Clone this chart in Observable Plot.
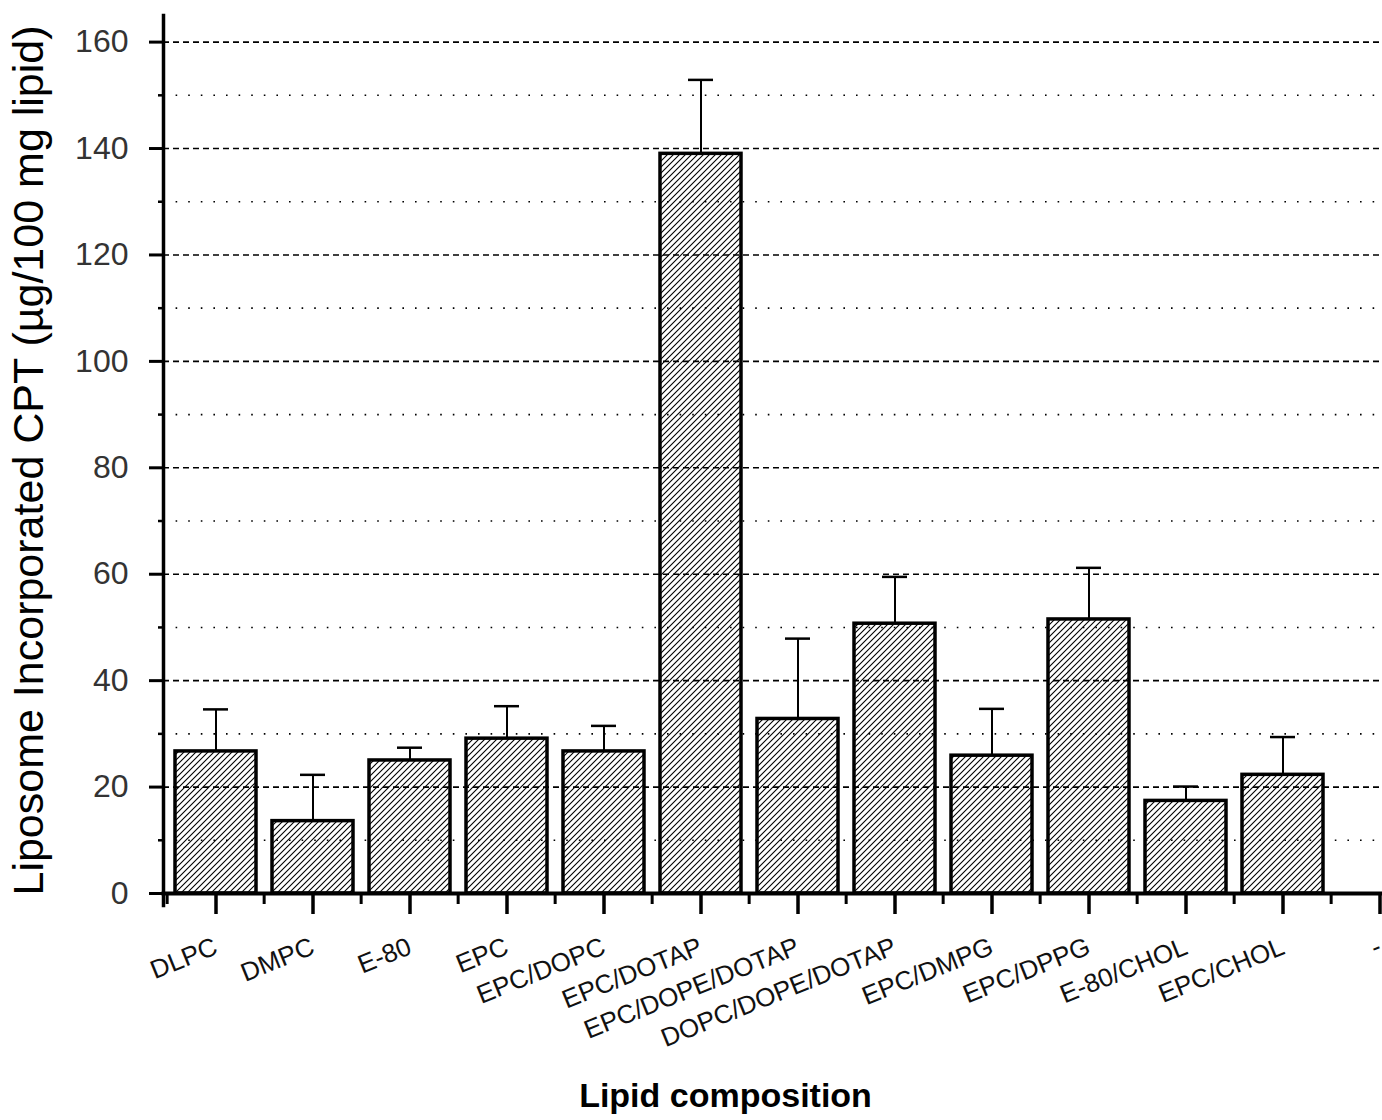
<!DOCTYPE html>
<html><head><meta charset="utf-8">
<script src="https://cdn.jsdelivr.net/npm/d3@7"></script>
<script src="https://cdn.jsdelivr.net/npm/@observablehq/plot@0.6"></script>
<style>
body{margin:0;background:#fff;}
#wrap{width:1382px;height:1120px;overflow:hidden;position:relative;background:#fff;}
</style></head><body><div id="wrap"></div>
<script>
const categories = ["DLPC","DMPC","E-80","EPC","EPC/DOPC","EPC/DOTAP","EPC/DOPE/DOTAP","DOPC/DOPE/DOTAP","EPC/DMPG","EPC/DPPG","E-80/CHOL","EPC/CHOL","-"];
const means  = [26.7, 13.6, 25.0, 29.1, 26.7, 139.0, 32.8, 50.7, 25.9, 51.5, 17.4, 22.3];
const errors = [ 7.9,  8.7,  2.4,  6.1,  4.8,  13.9, 15.1,  8.8,  8.8,  9.7,  2.7,  7.1];
const majorTicks = [0, 20, 40, 60, 80, 100, 120, 140, 160];
const minorTicks = [10, 30, 50, 70, 90, 110, 130, 150];
const yTitle = "Liposome Incorporated CPT (µg/100 mg lipid)";
const xTitle = "Lipid composition";

const data = means.map((m, i) => ({cat: categories[i], mean: m, top: m + errors[i]}));

const step = (1433 - 163) / categories.length;

const chart = Plot.plot({
  width: 1433, height: 1120,
  marginLeft: 163, marginRight: 0, marginTop: 15, marginBottom: 227,
  style: {fontFamily: "'Liberation Sans', Arial, sans-serif", background: "white", maxWidth: "none", overflow: "hidden"},
  x: {domain: categories, paddingInner: 0.16, paddingOuter: 0.08, label: null},
  y: {domain: [0, 165], label: null},
  marks: [
    Plot.gridY(majorTicks.filter(d => d > 0), {stroke: "#000", strokeOpacity: 1, strokeWidth: 1.6, strokeDasharray: "6,4"}),
    Plot.gridY(minorTicks, {stroke: "#000", strokeOpacity: 1, strokeWidth: 1.6, strokeDasharray: "1.6,11"}),
    Plot.barY(data, {x: "cat", y: "mean", fill: "url(#hatch)", stroke: "#000", strokeWidth: 3.5}),
    Plot.ruleX(data, {x: "cat", y1: "mean", y2: "top", stroke: "#000", strokeWidth: 2}),
    Plot.tickY(data, {x: "cat", y: "top", stroke: "#000", strokeWidth: 2.5, insetLeft: 28, insetRight: 28}),
    Plot.axisY(majorTicks, {tickSize: 14, tickPadding: 21, fontSize: 32, fill: "#333", stroke: "#000", strokeWidth: 3}),
    Plot.axisY(minorTicks, {tickSize: 5, text: null, stroke: "#000", strokeWidth: 2.5}),
    Plot.axisX(categories, {tickSize: 21, tickPadding: 31, tickRotate: -22, fontSize: 26, fill: "#111", stroke: "#000", strokeWidth: 3.5}),
    Plot.axisX(categories, {tickSize: 11, text: null, dx: -step / 2, stroke: "#000", strokeWidth: 3}),
    Plot.frame({anchor: "left", stroke: "#000", strokeWidth: 3.5, insetBottom: -12}),
    Plot.frame({anchor: "bottom", stroke: "#000", strokeWidth: 4}),
    Plot.text([yTitle], {frameAnchor: "left", dx: -134, dy: 6, rotate: -90, fontSize: 43, textAnchor: "middle", lineAnchor: "middle", fill: "#000"}),
    Plot.text([xTitle], {frameAnchor: "bottom", dx: -73, dy: 203, fontSize: 34, fontWeight: "bold", textAnchor: "middle", lineAnchor: "middle", fill: "#000"})
  ]
});

const defs = d3.select(chart).insert("defs", ":first-child");
const pat = defs.append("pattern")
  .attr("id", "hatch").attr("patternUnits", "userSpaceOnUse")
  .attr("width", 6).attr("height", 6);
pat.append("path")
  .attr("d", "M-1,1 l2,-2 M0,6 l6,-6 M5,7 l2,-2")
  .attr("stroke", "#000").attr("stroke-width", 1.1).attr("fill", "none");

document.getElementById("wrap").appendChild(chart);
</script>
</body></html>
